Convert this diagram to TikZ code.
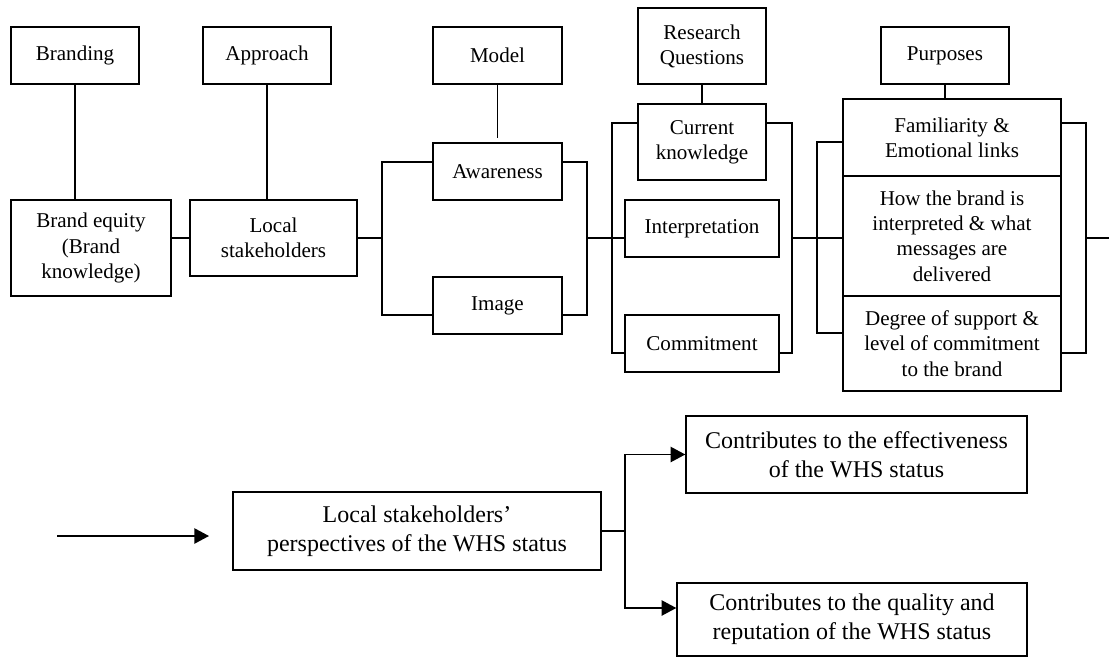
\documentclass[tikz,border=0pt]{standalone}
\usepackage{fontspec}
\setmainfont{Liberation Serif}
\usetikzlibrary{arrows.meta}
\newcommand{\topfont}{\fontsize{15.8}{18.9}\selectfont}
\newcommand{\lowfont}{\fontsize{18}{21.8}\selectfont}
\tikzset{
  box/.style={draw, line width=1.1pt, align=center, inner sep=2pt, font=\topfont},
  bigbox/.style={box, font=\lowfont},
  link/.style={line width=1.1pt},
  arr/.style={line width=1.1pt, -{Triangle[length=11pt,width=11.5pt]}}
}
\begin{document}
\begin{tikzpicture}[x=0.75pt, y=-0.75pt]
        \useasboundingbox (0,0) rectangle (1109,660);
        % top row
        \node[box, minimum width=96pt, minimum height=42.75pt] (branding) at (75,55.5) {Branding};
        \node[box, minimum width=96pt, minimum height=42.75pt] (approach) at (267,55.5) {Approach};
        \node[box, minimum width=96.75pt, minimum height=42.75pt] (model) at (497.5,55.5) {Model};
        \node[box, minimum width=96pt, minimum height=57pt] (questions) at (702,46) {Research\\Questions};
        \node[box, minimum width=96pt, minimum height=42.75pt] (purposes) at (945,55.5) {Purposes};
        % middle row
        \node[box, minimum width=120pt, minimum height=72pt] (equity) at (91,248) {Brand equity\\(Brand\\knowledge)};
        \node[box, minimum width=125.25pt, minimum height=57pt] (local) at (273.5,238) {Local\\stakeholders};
        \node[box, minimum width=96.75pt, minimum height=42.75pt] (awareness) at (497.5,171.5) {Awareness};
        \node[box, minimum width=96.75pt, minimum height=42.75pt] (image) at (497.5,305.5) {Image};
        \node[box, minimum width=96pt, minimum height=57pt] (current) at (702,142) {Current\\knowledge};
        \node[box, minimum width=115.5pt, minimum height=42.75pt] (interp) at (702,228.5) {Interpretation};
        \node[box, minimum width=115.5pt, minimum height=42.75pt] (commit) at (702,343.5) {Commitment};
        \node[box, minimum width=163.5pt, minimum height=57.75pt] (familiar) at (952,137.5) {Familiarity \&\\Emotional links};
        \node[box, minimum width=163.5pt, minimum height=90pt] (howbrand) at (952,236) {How the brand is\\interpreted \& what\\messages are\\delivered};
        \node[box, minimum width=163.5pt, minimum height=71.25pt] (degree) at (952,343.5) {Degree of support \&\\level of commitment\\to the brand};
        % bottom row
        \node[bigbox, minimum width=276pt, minimum height=58.5pt] (persp) at (417,531) {Local stakeholders'\\perspectives of the WHS status};
        \node[bigbox, minimum width=255.75pt, minimum height=57.75pt] (effect) at (856.5,454.5) {Contributes to the effectiveness\\of the WHS status};
        \node[bigbox, minimum width=262.5pt, minimum height=54.75pt] (quality) at (852,619.5) {Contributes to the quality and\\reputation of the WHS status};

        % bracket corners
        \coordinate (mL1) at (382,162);
        \coordinate (mL2) at (382,315);
        \coordinate (mR1) at (587,162);
        \coordinate (mR2) at (587,315);
        \coordinate (qL1) at (612,123);
        \coordinate (qL2) at (612,353);
        \coordinate (qR1) at (792,123);
        \coordinate (qR2) at (792,353);
        \coordinate (pL1) at (817,142);
        \coordinate (pL2) at (817,333);
        \coordinate (pR1) at (1086,123);
        \coordinate (pR2) at (1086,353);
        \coordinate (out) at (1109,238);
        \coordinate (in1) at (57,536);
        \coordinate (in2) at (209,536);
        \coordinate (split) at (625,531);
        \coordinate (lowturn) at (625,608);

        % headers down to the boxes
        \draw[link] (branding.south) -- (branding.south |- equity.north);
        \draw[link] (approach.south) -- (approach.south |- local.north);
        \draw[link, shorten >=3.5pt] (model.south) -- (awareness.north);
        \draw[link] (questions.south) -- (current.north);
        \draw[link] (purposes.south) -- (purposes.south |- familiar.north);

        % main line
        \draw[link] (local.west -| equity.east) -- (local.west);
        \draw[link] (local.east) -- (local.east -| mL1);
        \draw[link] (awareness.west |- mL1) -- (mL1) -- (mL2) -- (image.west |- mL2);
        \draw[link] (awareness.east |- mR1) -- (mR1) -- (mR2) -- (image.east |- mR2);
        \draw[link] (mR1 |- local.east) -- (interp.west |- local.east);
        \draw[link] (current.west |- qL1) -- (qL1) -- (qL2) -- (commit.west |- qL2);
        \draw[link] (current.east |- qR1) -- (qR1) -- (qR2) -- (commit.east |- qR2);
        \draw[link] (qR1 |- local.east) -- (howbrand.west |- local.east);
        \draw[link] (familiar.west |- pL1) -- (pL1) -- (pL2) -- (degree.west |- pL2);
        \draw[link] (familiar.east |- pR1) -- (pR1) -- (pR2) -- (degree.east |- pR2);
        \draw[link] (pR1 |- out) -- (out);

        % outcome
        \draw[arr] (in1) -- (in2);
        \draw[link] (persp.east) -- (split);
        \draw[arr] (split) |- (effect.west);
        \draw[arr] (split) -- (lowturn) -- (lowturn -| quality.west);
    \end{tikzpicture}
\end{document}
